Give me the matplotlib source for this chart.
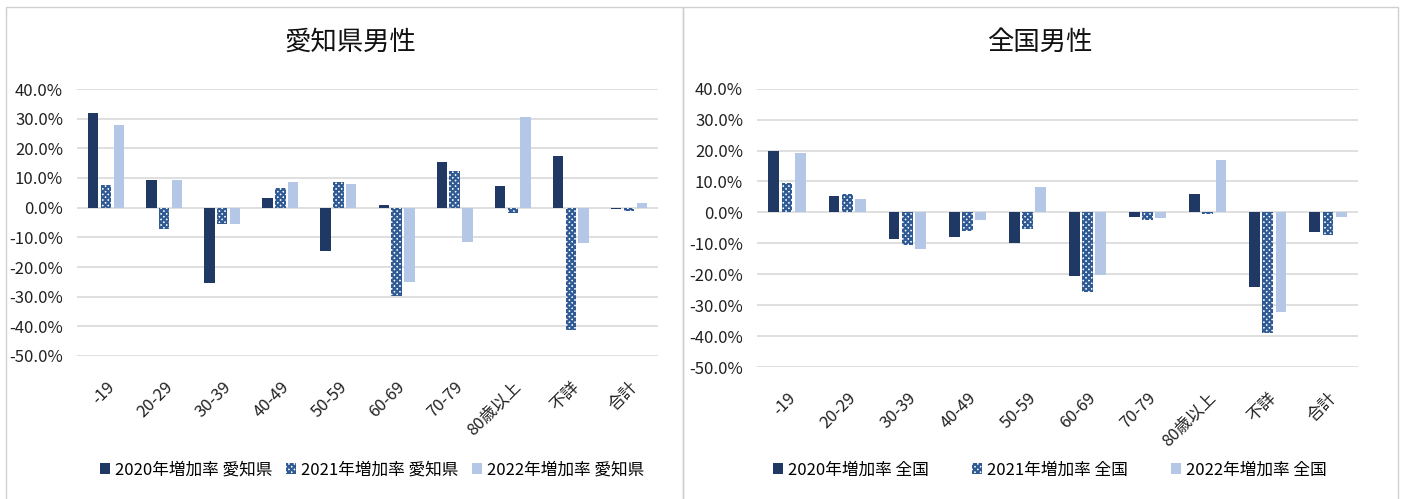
import numpy as np
import matplotlib.pyplot as plt
from matplotlib.patches import Rectangle
from matplotlib.ticker import FuncFormatter

plt.rcParams['font.family'] = ['Noto Sans CJK JP', 'DejaVu Sans']
plt.rcParams['hatch.linewidth'] = 1.6

categories = ['-19', '20-29', '30-39', '40-49', '50-59', '60-69', '70-79', '80歳以上', '不詳', '合計']

# 愛知県男性 (%)
aichi_2020 = [31.9, 9.3, -25.3, 3.2, -14.5, 0.9, 15.3, 7.3, 17.3, -0.6]
aichi_2021 = [7.7, -7.3, -5.5, 6.5, 8.6, -29.8, 12.4, -1.9, -41.3, -1.1]
aichi_2022 = [27.7, 9.3, -5.5, 8.6, 7.9, -25.1, -11.5, 30.6, -11.9, 1.7]

# 全国男性 (%)
zenkoku_2020 = [19.8, 5.2, -8.7, -7.8, -10.0, -20.5, -1.5, 5.8, -24.0, -6.3]
zenkoku_2021 = [9.5, 6.1, -10.7, -5.9, -5.4, -25.6, -2.6, -0.5, -38.9, -7.2]
zenkoku_2022 = [19.3, 4.3, -11.9, -2.5, 8.1, -20.3, -1.7, 17.1, -32.3, -1.6]

dark = '#203864'
hatch_col = '#2f5a94'
light = '#b4c7e7'
grid = '#d9d9d9'

fig = plt.figure(figsize=(14.03, 4.99), dpi=100)

# panel frames
W, H = 1403, 499
fig.add_artist(Rectangle((6 / W, -0.05), (683 - 6) / W, 1.05 - 7 / H,
                         transform=fig.transFigure, fill=False, edgecolor='#d0d0d0', lw=1))
fig.add_artist(Rectangle((683 / W, -0.05), (1398 - 683) / W, 1.05 - 7 / H,
                         transform=fig.transFigure, fill=False, edgecolor='#d0d0d0', lw=1))


def draw(rect, v20, v21, v22, title, suffix, title_x, leg_x, leg_spacing):
    ax = fig.add_axes(rect)
    x = np.arange(len(categories))
    w = 0.18
    step = 0.22
    ax.bar(x - step, v20, w, color=dark, label=f'2020年増加率 {suffix}', zorder=3)
    ax.bar(x, v21, w, facecolor='white', edgecolor=hatch_col, hatch='xxxxxx', lw=0,
           label=f'2021年増加率 {suffix}', zorder=3)
    ax.bar(x + step, v22, w, color=light, label=f'2022年増加率 {suffix}', zorder=3)
    ax.set_ylim(-50, 40)
    ax.set_xlim(-0.5, len(categories) - 0.5)
    ax.set_yticks(np.arange(-50, 41, 10))
    ax.yaxis.set_major_formatter(FuncFormatter(lambda v, p: f'{v:.1f}%'))
    ax.grid(axis='y', color=grid, lw=1.2, zorder=0)
    for s in ax.spines.values():
        s.set_visible(False)
    ax.tick_params(axis='both', length=0, labelsize=12, colors='#222222')
    ax.tick_params(axis='y', pad=10)
    ax.tick_params(axis='x', pad=16)
    ax.set_xticks(x)
    ax.set_xticklabels(categories, rotation=45, ha='right', rotation_mode='anchor')
    fig.text(title_x, 1 - 42 / H, title, ha='center', va='center', fontsize=19, color='#111111')
    h, l = ax.get_legend_handles_labels()
    fig.legend(h, l, loc='center', bbox_to_anchor=(leg_x, 1 - 470 / H), ncol=3, frameon=False,
               fontsize=12, handlelength=0.6, handleheight=0.6, handletextpad=0.3,
               columnspacing=leg_spacing)
    return ax


draw([77 / W, 1 - 356 / H, (658 - 77) / W, (356 - 89) / H],
     aichi_2020, aichi_2021, aichi_2022, '愛知県男性', '愛知県', 350 / W, 372 / W, 0.8)
draw([757 / W, 1 - 367 / H, (1358 - 757) / W, (367 - 88.7) / H],
     zenkoku_2020, zenkoku_2021, zenkoku_2022, '全国男性', '全国', 1040 / W, 1050 / W, 2.6)

fig.savefig('out.png', dpi=100)
